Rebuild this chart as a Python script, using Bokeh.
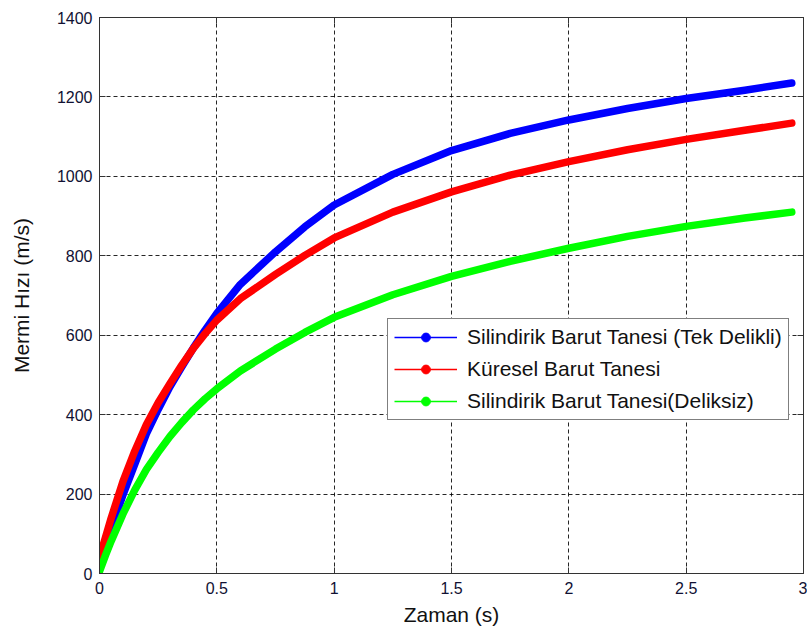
from bokeh.plotting import figure
from bokeh.models import (Range1d, LinearAxis, FixedTicker, Legend, LegendItem,
                          ColumnDataSource, NumeralTickFormatter)
from bokeh.embed import file_html
from bokeh.resources import INLINE

# ---- data ----
time_s = [0, 0.025, 0.05, 0.1, 0.15, 0.2, 0.25, 0.3, 0.35, 0.4, 0.45, 0.5,
          0.6, 0.75, 0.875, 1.0, 1.25, 1.5, 1.75, 2.0, 2.25, 2.5, 2.75, 2.95]
v_tek_delikli = [25, 68, 110, 198, 275, 352, 413, 470, 520, 568, 613, 655,
                 728, 810, 873, 928, 1005, 1065, 1108, 1142, 1171, 1196, 1217, 1235]
v_kuresel = [40, 90, 140, 232, 308, 375, 430, 478, 524, 567, 604, 638,
             692, 753, 801, 845, 910, 961, 1003, 1037, 1067, 1093, 1116, 1134]
v_deliksiz = [5, 45, 82, 150, 210, 262, 305, 345, 380, 412, 440, 465,
              510, 565, 607, 645, 702, 748, 786, 819, 849, 874, 895, 910]

series_names = ["Silindirik Barut Tanesi (Tek Delikli)",
                "Küresel Barut Tanesi",
                "Silindirik Barut Tanesi(Deliksiz)"]
series_colors = ["#0000ff", "#ff0000", "#00ff00"]

x_ticks = [0, 0.5, 1, 1.5, 2, 2.5, 3]
y_ticks = [0, 200, 400, 600, 800, 1000, 1200, 1400]

FONT = "Liberation Sans"
NAN = float("nan")

p = figure(width=807, height=635, output_backend="svg", toolbar_location=None,
           x_range=Range1d(0, 3), y_range=Range1d(0, 1400),
           min_border_left=99, min_border_right=4, min_border_top=17,
           min_border_bottom=62)
p.background_fill_color = "white"
p.border_fill_color = "white"
p.outline_line_color = "#333333"
p.outline_line_width = 1

# main axes
for ax in (p.xaxis[0], p.yaxis[0]):
    ax.major_tick_in = 6
    ax.major_tick_out = 0
    ax.minor_tick_in = 0
    ax.minor_tick_out = 0
    ax.axis_line_color = "#333333"
    ax.major_tick_line_color = "#333333"
    ax.major_label_text_font = FONT
    ax.major_label_text_font_size = "16px"
    ax.major_label_text_color = "#111133"
    ax.axis_label_text_font = FONT
    ax.axis_label_text_font_size = "21px"
    ax.axis_label_text_font_style = "normal"
    ax.axis_label_text_color = "#111111"

p.xaxis.ticker = FixedTicker(ticks=x_ticks)
p.yaxis.ticker = FixedTicker(ticks=y_ticks)
p.xaxis.formatter = NumeralTickFormatter(format="0.[0]")
p.xaxis.axis_label = "Zaman (s)"
p.yaxis.axis_label = "Mermi Hızı (m/s)"
p.xaxis.major_label_standoff = 8
p.yaxis.major_label_standoff = 7
p.xaxis.axis_label_standoff = 6
p.yaxis.axis_label_standoff = 21

# grid
for g in (p.xgrid[0], p.ygrid[0]):
    g.grid_line_color = "black"
    g.grid_line_dash = "4 3"
    g.grid_line_width = 1
    g.grid_line_alpha = 0.85
p.xgrid.ticker = FixedTicker(ticks=x_ticks)
p.ygrid.ticker = FixedTicker(ticks=y_ticks)

# tick marks on top and right (MATLAB box), no labels there
top = LinearAxis(ticker=FixedTicker(ticks=x_ticks), major_tick_in=6, major_tick_out=0,
                 minor_tick_in=0, minor_tick_out=0,
                 major_label_overrides={t: "" for t in x_ticks},
                 major_label_standoff=0, axis_line_color="#333333",
                 major_tick_line_color="#333333")
right = LinearAxis(ticker=FixedTicker(ticks=y_ticks), major_tick_in=6, major_tick_out=0,
                   minor_tick_in=0, minor_tick_out=0,
                   major_label_overrides={t: "" for t in y_ticks},
                   major_label_standoff=0, axis_line_color="#333333",
                   major_tick_line_color="#333333")
p.add_layout(top, "above")
p.add_layout(right, "right")

src = ColumnDataSource(dict(t=time_s, a=v_tek_delikli, b=v_kuresel, c=v_deliksiz))
items = []
for col, name, color in zip(["a", "b", "c"], series_names, series_colors):
    p.line("t", col, source=src, line_color=color, line_width=7.5, line_join="round",
           line_cap="round")
    # legend sample (thin line with dot marker, as in the reference); not drawn in plot
    dummy = ColumnDataSource(dict(x=[NAN], y=[NAN]))
    lr = p.line("x", "y", source=dummy, line_color=color, line_width=1.5)
    mr = p.scatter("x", "y", source=dummy, marker="circle", size=5,
                   fill_color=color, line_color=color)
    items.append(LegendItem(label=name, renderers=[lr, mr]))

legend = Legend(items=items, location=(288, 153), orientation="vertical",
                label_text_font=FONT, label_text_font_size="21px",
                label_text_color="#111111",
                glyph_width=63, glyph_height=22, label_height=22, label_standoff=10,
                spacing=8, padding=6, margin=0,
                border_line_color="black", border_line_width=1,
                background_fill_color="white", background_fill_alpha=1)
p.add_layout(legend, "center")

open("out.html", "w").write(file_html(p, INLINE))
